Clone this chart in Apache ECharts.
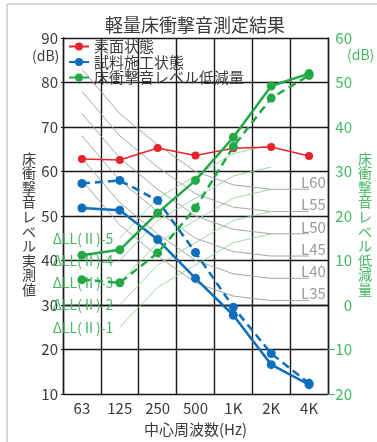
<!DOCTYPE html>
<html>
<head>
<meta charset="utf-8">
<script src="https://cdn.jsdelivr.net/npm/echarts@6/dist/echarts.min.js"></script>
<style>
  html, body { margin: 0; padding: 0; background: #fff; }
  #impactChart { width: 377px; height: 442px; }
</style>
</head>
<body>
<div id="impactChart"></div>
<script>
// 中心周波数
const categories = ['63', '125', '250', '500', '1K', '2K', '4K']
// 床衝撃音レベル実測値 (dB)
const bareFloor = [62.8, 62.6, 65.3, 63.6, 65.2, 65.5, 63.5]
const sampleSolid = [51.8, 51.3, 44.7, 36.0, 27.7, 16.6, 12.1]
const sampleDashed = [57.3, 58.0, 53.5, 41.8, 29.5, 19.1, 12.4]
// 床衝撃音レベル低減量 (dB)
const reductionSolid = [11.2, 12.4, 20.7, 28.0, 37.7, 49.2, 52.0]
const reductionDashed = [5.7, 5.0, 11.7, 21.8, 35.6, 46.5, 51.6]

// L等級曲線
const lNames = ['L60', 'L55', 'L50', 'L45', 'L40', 'L35']
const lCurves = [
  [83, 73, 66, 60, 57, 56, 56],
  [78, 68, 61, 55, 52, 51, 51],
  [73, 63, 56, 50, 47, 46, 46],
  [68, 58, 51, 45, 42, 41, 41],
  [63, 53, 46, 40, 37, 36, 36],
  [58, 48, 41, 35, 32, 31, 31]
]
// ΔLL(Ⅱ)等級曲線
const dNames = ['ΔLL(Ⅱ)-5', 'ΔLL(Ⅱ)-4', 'ΔLL(Ⅱ)-3', 'ΔLL(Ⅱ)-2', 'ΔLL(Ⅱ)-1']
const dCurves = [
  [null, 15, 24, 29, 34, 36, null],
  [null, 10, 19, 24, 29, 31, null],
  [null, 5, 14, 19, 24, 26, null],
  [null, 0, 9, 14, 19, 21, null],
  [null, -5, 4, 9, 14, 16, null]
]

const legendNames = ['素面状態', '試料施工状態', '床衝撃音レベル低減量']
const leftAxisName = '床衝撃音レベル実測値'
const rightAxisName = '床衝撃音レベル低減量'

const FONT = '"Noto Sans CJK JP", "Noto Sans", sans-serif'
const TEXT = '#3a3a3a'
const GREEN = '#22a845'
const GREEN_TEXT = '#46b862'
const BLUE = '#0f6fbd'
const RED = '#e8232b'

const chart = echarts.init(document.getElementById('impactChart'))

const series = []

lCurves.forEach((curve, i) => {
  series.push({
    name: lNames[i],
    type: 'line',
    yAxisIndex: 0,
    data: curve,
    showSymbol: false,
    silent: true,
    z: 1,
    lineStyle: { color: '#9c9c9c', width: 0.9 },
    endLabel: {
      show: true,
      formatter: lNames[i],
      color: '#9a9a9a',
      fontFamily: FONT,
      fontSize: 15,
      distance: 0,
      offset: [-8, -7]
    }
  })
})

dCurves.forEach((curve, i) => {
  const first = curve.findIndex(v => v !== null)
  series.push({
    name: dNames[i],
    type: 'line',
    yAxisIndex: 1,
    data: curve.map((v, k) => k === first ? {
      value: v,
      label: {
        show: true,
        position: 'left',
        distance: 6,
        formatter: dNames[i],
        color: GREEN_TEXT,
        opacity: 1,
        fontFamily: FONT,
        fontSize: 14
      }
    } : v),
    symbol: 'circle',
    symbolSize: 1,
    showSymbol: true,
    showAllSymbol: true,
    itemStyle: { color: 'rgba(0,0,0,0)' },
    silent: true,
    z: 1,
    lineStyle: { color: '#8fd69b', width: 0.9 }
  })
})

series.push({
  name: legendNames[0],
  type: 'line',
  yAxisIndex: 0,
  data: bareFloor,
  symbol: 'circle',
  symbolSize: 8,
  z: 5,
  itemStyle: { color: RED },
  lineStyle: { color: RED, width: 1.5 }
}, {
  name: legendNames[1],
  type: 'line',
  yAxisIndex: 0,
  data: sampleSolid,
  symbol: 'circle',
  symbolSize: 9,
  z: 5,
  itemStyle: { color: BLUE },
  lineStyle: { color: BLUE, width: 2.5 }
}, {
  name: legendNames[1],
  type: 'line',
  yAxisIndex: 0,
  data: sampleDashed,
  symbol: 'circle',
  symbolSize: 9,
  z: 5,
  itemStyle: { color: BLUE },
  lineStyle: { color: BLUE, width: 2.5, type: [8, 5] }
}, {
  name: legendNames[2],
  type: 'line',
  yAxisIndex: 1,
  data: reductionSolid,
  symbol: 'circle',
  symbolSize: 9,
  z: 5,
  itemStyle: { color: GREEN },
  lineStyle: { color: GREEN, width: 2.5 }
}, {
  name: legendNames[2],
  type: 'line',
  yAxisIndex: 1,
  data: reductionDashed,
  symbol: 'circle',
  symbolSize: 9,
  z: 5,
  itemStyle: { color: GREEN },
  lineStyle: { color: GREEN, width: 2.5, type: [8, 5] }
})

chart.setOption({
  animation: false,
  textStyle: { fontFamily: FONT },
  title: {
    text: '軽量床衝撃音測定結果',
    left: 100,
    top: 11,
    textStyle: { color: TEXT, fontSize: 18, fontWeight: 'normal', fontFamily: FONT }
  },
  legend: {
    data: legendNames,
    orient: 'vertical',
    left: 68,
    top: 39,
    itemWidth: 20,
    itemHeight: 10,
    itemGap: 0.5,
    padding: 0,
    textStyle: { color: TEXT, fontSize: 15, lineHeight: 15, fontFamily: FONT }
  },
  grid: { left: 63, right: 49, top: 38, bottom: 42, containLabel: false },
  xAxis: {
    type: 'category',
    data: categories,
    boundaryGap: true,
    axisLine: { lineStyle: { color: '#1a1a1a', width: 1.4 } },
    axisTick: { show: false },
    axisLabel: { color: TEXT, fontSize: 15, margin: 7, fontFamily: FONT },
    splitLine: { show: true, lineStyle: { color: '#1a1a1a', width: 1.4 } },
    name: '中心周波数(Hz)',
    nameLocation: 'middle',
    nameGap: 28,
    nameTextStyle: { color: TEXT, fontSize: 15, fontFamily: FONT }
  },
  yAxis: [{
    type: 'value',
    min: 10,
    max: 90,
    interval: 10,
    position: 'left',
    axisLine: { show: true, lineStyle: { color: '#1a1a1a', width: 1.4 } },
    axisTick: { show: true, length: 2, lineStyle: { color: '#1a1a1a' } },
    axisLabel: { color: TEXT, fontSize: 15, margin: 5, fontFamily: FONT },
    splitLine: { show: true, lineStyle: { color: '#1a1a1a', width: 1.4 } }
  }, {
    type: 'value',
    min: -20,
    max: 60,
    interval: 10,
    position: 'right',
    axisLine: { show: true, lineStyle: { color: '#1a1a1a', width: 1.4 } },
    axisTick: { show: false },
    axisLabel: {
      color: GREEN_TEXT,
      fontSize: 15,
      margin: 24,
      align: 'right',
      fontFamily: FONT,
      formatter: v => String(v).replace('-', '−')
    },
    splitLine: { show: false }
  }],
  graphic: [{
    type: 'rect',
    shape: { x: 7, y: 4, width: 400, height: 460 },
    style: { fill: null, stroke: '#b0b0b0', lineWidth: 1 },
    silent: true
  }, {
    type: 'text',
    left: 32,
    top: 49,
    style: { text: '(dB)', fill: TEXT, font: '14px ' + FONT }
  }, {
    type: 'text',
    left: 347,
    top: 48,
    style: { text: '(dB)', fill: GREEN_TEXT, font: '14px ' + FONT }
  }, {
    type: 'text',
    left: 22,
    top: 151,
    style: {
      text: leftAxisName.split('').join('\n'),
      fill: TEXT,
      font: '14px ' + FONT,
      lineHeight: 14.6
    }
  }, {
    type: 'text',
    left: 358,
    top: 151,
    style: {
      text: rightAxisName.split('').join('\n'),
      fill: GREEN_TEXT,
      font: '14px ' + FONT,
      lineHeight: 14.6
    }
  }],
  series: series
})
</script>
</body>
</html>
